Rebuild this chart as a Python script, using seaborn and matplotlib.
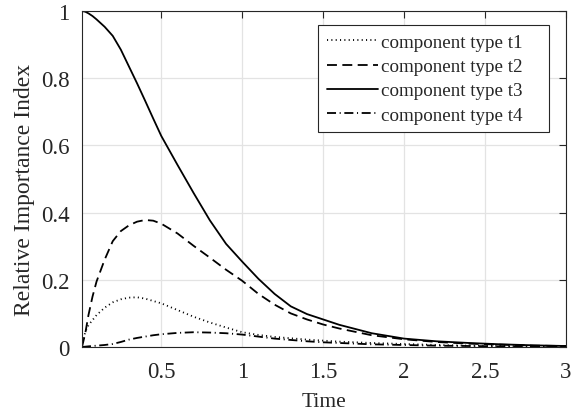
import numpy as np
import pandas as pd
import matplotlib
matplotlib.use("Agg")
import matplotlib.pyplot as plt
import seaborn as sns

sns.set_theme(style="whitegrid")
plt.rcParams['font.family'] = ['Liberation Serif', 'DejaVu Serif']

# values
time = [0.01, 0.03, 0.05, 0.075, 0.1, 0.15, 0.2, 0.25, 0.3, 0.35, 0.4, 0.45, 0.5,
        0.6, 0.7, 0.8, 0.9, 1.0, 1.1, 1.2, 1.3, 1.4, 1.5, 1.6, 1.8, 2.0,
        2.2, 2.4, 2.6, 2.8, 3.0]
t1 = [0.0, 0.045, 0.065, 0.08, 0.095, 0.117, 0.133, 0.142, 0.147, 0.148, 0.144, 0.137, 0.13,
      0.11, 0.09, 0.073, 0.058, 0.044, 0.036, 0.03, 0.026, 0.022, 0.019, 0.016, 0.012, 0.009,
      0.006, 0.004, 0.003, 0.002, 0.001]
t2 = [0.0, 0.04, 0.095, 0.15, 0.195, 0.26, 0.315, 0.345, 0.362, 0.373, 0.378, 0.376, 0.367,
      0.338, 0.301, 0.266, 0.23, 0.197, 0.158, 0.126, 0.1, 0.082, 0.067, 0.055, 0.035, 0.023,
      0.015, 0.01, 0.007, 0.004, 0.003]
t3 = [1.0, 0.998, 0.993, 0.985, 0.975, 0.953, 0.926, 0.885, 0.835, 0.785, 0.733, 0.68, 0.628,
      0.542, 0.458, 0.377, 0.307, 0.254, 0.203, 0.158, 0.121, 0.098, 0.082, 0.066, 0.041, 0.025,
      0.017, 0.012, 0.008, 0.005, 0.003]
t4 = [0.0, 0.001, 0.002, 0.003, 0.004, 0.006, 0.009, 0.015, 0.022, 0.027, 0.031, 0.035, 0.038,
      0.042, 0.044, 0.043, 0.041, 0.037, 0.031, 0.025, 0.021, 0.017, 0.014, 0.012, 0.008, 0.006,
      0.004, 0.003, 0.002, 0.0015, 0.001]
labels = ["component type t1", "component type t2", "component type t3", "component type t4"]

df = pd.DataFrame({"Time": time, labels[0]: t1, labels[1]: t2, labels[2]: t3, labels[3]: t4})
long = df.melt(id_vars="Time", var_name="series", value_name="value")

dash_styles = {labels[0]: (0.6, 1.8), labels[1]: (5.5, 3.0),
               labels[2]: "", labels[3]: (5.0, 2.0, 0.6, 2.0)}

fig = plt.figure(figsize=(5.79, 4.14), dpi=100)
ax = fig.add_axes([0.1416, 0.1594, 0.8359, 0.8116])
sns.lineplot(data=long, x="Time", y="value", hue="series", style="series",
             palette=["black"] * 4, dashes=dash_styles, linewidth=1.3, ax=ax)

ax.set_xlim(0.01, 3)
ax.set_ylim(0, 1)
ax.set_xticks([0.5, 1, 1.5, 2, 2.5, 3])
ax.set_xticklabels(["0.5", "1", "1.5", "2", "2.5", "3"])
ax.set_yticks([0, 0.2, 0.4, 0.6, 0.8, 1])
ax.set_yticklabels(["0", "0.2", "0.4", "0.6", "0.8", "1"])
ax.set_xlabel("Time", fontsize=15.5, color="#262626", labelpad=7)
ax.set_ylabel("Relative Importance Index", fontsize=17, color="#262626")
ax.yaxis.set_label_coords(-0.097, 0.47)
ax.grid(True, color="#e3e3e3", linewidth=0.9)
ax.tick_params(direction="in", length=5, width=0.8, top=True, right=True,
               labelsize=16.5, colors="#262626")
ax.tick_params(axis="x", pad=10)
ax.tick_params(axis="y", pad=9)
for s in ax.spines.values():
    s.set_visible(True)
    s.set_color("#262626")
    s.set_linewidth(0.8)

leg = ax.legend(loc="upper right", bbox_to_anchor=(0.4876, 0.646, 0.4774, 0.312),
                mode="expand", fontsize=13.7,
                frameon=True, fancybox=False, framealpha=1, edgecolor="#262626",
                handlelength=2.7, handletextpad=0.15, borderpad=0.45,
                labelspacing=0.36, borderaxespad=0)
leg.get_frame().set_linewidth(0.8)
for h in leg.get_lines():
    h.set_linewidth(1.3)

fig.savefig("out.png", dpi=100)
